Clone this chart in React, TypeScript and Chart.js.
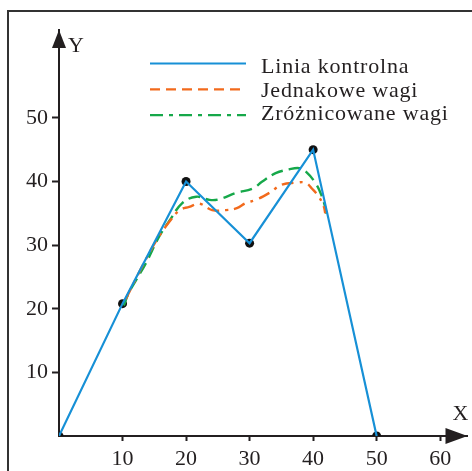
import React, { useEffect, useRef } from "react";
import { Chart, registerables } from "chart.js";

Chart.register(...registerables);

// ---- data ----
const controlX = [0, 10, 20, 30, 40, 50];
const controlY = [0, 20.8, 40, 30.3, 45, 0];

const equalX = [10.5, 12, 13.7, 15.5, 17.4, 19, 20.5, 22.1, 24.1, 26.3, 28, 29.4, 31, 33.1, 35.1, 37.3, 38.8, 39.8, 40.9, 41.7, 41.9];
const equalY = [21.5, 24.5, 27.8, 31, 33.7, 35.5, 36, 36.5, 35.5, 35.5, 35.8, 36.6, 37.1, 38.2, 39.5, 39.8, 39.8, 38.9, 37.6, 36, 35];

const diffX = [10.2, 10.9, 12.2, 13.7, 15.8, 17.5, 19.4, 21.6, 23.7, 25.2, 27.9, 30.5, 32, 34.1, 36.2, 37.8, 38.8, 40.4, 41.4, 42, 42.1];
const diffY = [20.5, 22.3, 24.6, 27.2, 31.4, 34, 36.6, 37.6, 37.1, 37.2, 38.2, 38.9, 40, 41.3, 41.9, 42.1, 41.6, 39.7, 37.6, 35.5, 34.5];

const xTicks = [10, 20, 30, 40, 50, 60];
const yTicks = [10, 20, 30, 40, 50];

const seriesLabels = ["Linia kontrolna", "Jednakowe wagi", "Zróżnicowane wagi"];
const axisNames = ["X", "Y"];

const BLUE = "#1790d6";
const ORANGE = "#f26a1c";
const GREEN = "#16a84a";
const INK = "#231f20";
const FONT = "'Liberation Serif', 'Times New Roman', serif";

const zip = (xs: number[], ys: number[]) => xs.map((x, i) => ({ x, y: ys[i] }));

const decorPlugin = {
  id: "decor",
  afterDraw(chart: any) {
    const ctx = chart.ctx;
    const area = chart.chartArea;
    ctx.save();
    // frame
    ctx.strokeStyle = "#333";
    ctx.lineWidth = 2;
    ctx.beginPath();
    ctx.moveTo(8, chart.height);
    ctx.lineTo(8, 11);
    ctx.lineTo(chart.width, 11);
    ctx.stroke();

    // arrows
    ctx.fillStyle = INK;
    ctx.beginPath();
    ctx.moveTo(area.left, area.top);
    ctx.lineTo(area.left - 7, area.top + 18);
    ctx.lineTo(area.left + 7, area.top + 18);
    ctx.closePath();
    ctx.fill();
    ctx.beginPath();
    ctx.moveTo(area.right, area.bottom);
    ctx.lineTo(area.right - 22, area.bottom - 8);
    ctx.lineTo(area.right - 22, area.bottom + 8);
    ctx.closePath();
    ctx.fill();

    // axis names
    ctx.font = `22px ${FONT}`;
    ctx.textBaseline = "middle";
    ctx.textAlign = "left";
    ctx.fillText(axisNames[1], area.left + 9, area.top + 16);
    ctx.fillText(axisNames[0], area.right - 15, area.bottom - 22);

    // legend
    const ds = chart.data.datasets;
    const items = [0, 1, 2];
    const legendDash = [[], [10, 6], [13, 6, 4, 6]];
    items.forEach((i) => {
      const d = ds[i];
      const ly = 63.5 + i * 25.8;
      ctx.strokeStyle = d.borderColor;
      ctx.lineWidth = 2.2;
      ctx.setLineDash(legendDash[i]);
      ctx.beginPath();
      ctx.moveTo(150, ly);
      ctx.lineTo(246, ly);
      ctx.stroke();
      ctx.setLineDash([]);
      ctx.fillStyle = INK;
      ctx.textBaseline = "alphabetic";
      ctx.font = `22px ${FONT}`;
      (ctx as any).letterSpacing = "0.8px";
      ctx.fillText(d.label, 261, 73.3 + i * 23.3);
      (ctx as any).letterSpacing = "0px";
    });
    ctx.restore();
  },
};

export default function App() {
  const ref = useRef<HTMLCanvasElement | null>(null);
  useEffect(() => {
    document.body.style.margin = "0";
    const canvas = ref.current!;
    const chart = new Chart(canvas, {
      type: "scatter",
      data: {
        datasets: [
          {
            label: seriesLabels[0],
            data: zip(controlX, controlY),
            showLine: true,
            borderColor: BLUE,
            borderWidth: 2.2,
            pointRadius: 0,
            order: 1,
          },
          {
            label: seriesLabels[1],
            data: zip(equalX, equalY),
            showLine: true,
            borderColor: ORANGE,
            borderWidth: 2.4,
            borderDash: [12, 6, 3, 6],
            tension: 0.4,
            pointRadius: 0,
            order: 2,
          },
          {
            label: seriesLabels[2],
            data: zip(diffX, diffY),
            showLine: true,
            borderColor: GREEN,
            borderWidth: 2.4,
            borderDash: [12, 6],
            tension: 0.4,
            pointRadius: 0,
            order: 3,
          },
          {
            label: "points",
            data: zip(controlX, controlY),
            showLine: false,
            pointRadius: 4.5,
            pointBackgroundColor: "#111",
            pointBorderColor: "#111",
            pointBorderWidth: 0,
            order: 4,
          },
        ],
      },
      options: {
        responsive: false,
        animation: false,
        layout: { padding: { left: 0, top: 30, right: 3, bottom: 0 } },
        plugins: { legend: { display: false }, tooltip: { enabled: false } },
        scales: {
          x: {
            type: "linear",
            min: 0,
            max: 64.3,
            afterBuildTicks: (s: any) => {
              s.ticks = xTicks.map((v) => ({ value: v }));
            },
            afterFit: (s: any) => {
              s.height = 35;
            },
            ticks: {
              autoSkip: false,
              maxRotation: 0,
              padding: 5,
              color: INK,
              font: { family: FONT, size: 22 },
            },
            grid: {
              drawOnChartArea: false,
              drawTicks: true,
              tickLength: 5,
              tickWidth: 2,
              tickColor: INK,
              color: INK,
            },
            border: { display: true, color: INK, width: 2 },
          },
          y: {
            type: "linear",
            min: 0,
            max: 63.8,
            afterBuildTicks: (s: any) => {
              s.ticks = yTicks.map((v) => ({ value: v }));
            },
            afterFit: (s: any) => {
              s.width = 59;
            },
            ticks: {
              autoSkip: false,
              padding: 4,
              color: INK,
              font: { family: FONT, size: 22 },
            },
            grid: {
              drawOnChartArea: false,
              drawTicks: true,
              tickLength: 7,
              tickWidth: 2,
              tickColor: INK,
              color: INK,
            },
            border: { display: true, color: INK, width: 2 },
          },
        },
      },
      plugins: [decorPlugin],
    } as any);
    return () => chart.destroy();
  }, []);
  return (
    <div style={{ width: 472, height: 471 }}>
      <canvas ref={ref} width={472} height={471} style={{ display: "block" }} />
    </div>
  );
}
